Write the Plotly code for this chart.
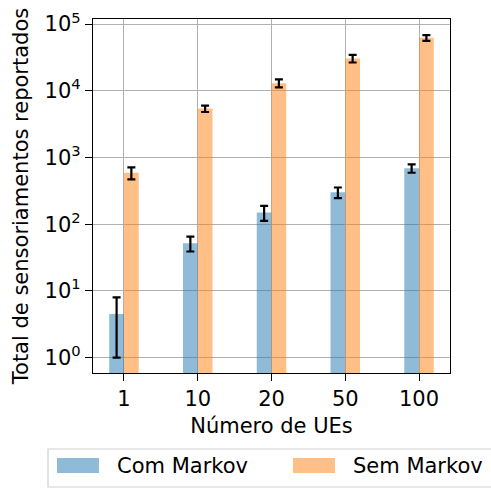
import plotly.graph_objects as go

# Number of UEs (x categories)
ues = ["1", "10", "20", "50", "100"]

# Total reported sensing events, mean and error (std)
com_markov = [4.5, 52, 150, 300, 690]
com_markov_err = [3.5, 13, 38, 55, 100]
sem_markov = [590, 5400, 13000, 30500, 62000]
sem_markov_err = [120, 600, 1800, 4000, 6000]

series_names = ["Com Markov", "Sem Markov"]
blue = "rgba(31,119,180,0.5)"
orange = "rgba(255,127,14,0.5)"

FONT = "DejaVu Sans"
FS = 21

fig = go.Figure()
err_style = dict(type="data", color="black", thickness=2.2, width=4)
fig.add_trace(go.Bar(
    x=ues, y=com_markov, name=series_names[0], marker=dict(color=blue, line=dict(width=0)),
    error_y=dict(array=com_markov_err, **err_style), showlegend=False,
))
fig.add_trace(go.Bar(
    x=ues, y=sem_markov, name=series_names[1], marker=dict(color=orange, line=dict(width=0)),
    error_y=dict(array=sem_markov_err, **err_style), showlegend=False,
))

# plot area in pixels
W, H = 491, 489
L, R, T, B = 93, 450, 19, 373
pw, ph = R - L, B - T

def px_x(x):
    return (x - L) / pw

def px_y(y):
    return (B - y) / ph

# legend drawn below the plot with wide swatches
shapes = [
    dict(type="rect", xref="paper", yref="paper",
         x0=px_x(48), x1=px_x(496), y0=px_y(449), y1=px_y(487),
         line=dict(color="rgba(204,204,204,0.9)", width=1.2), fillcolor="white", layer="above"),
]
annotations = []
legend_items = [(series_names[0], blue, 57, 115), (series_names[1], orange, 293, 351)]
for name, col, sx, tx in legend_items:
    shapes.append(dict(type="rect", xref="paper", yref="paper",
                       x0=px_x(sx), x1=px_x(sx + 42), y0=px_y(458), y1=px_y(473),
                       line=dict(width=0), fillcolor=col, layer="above"))
    annotations.append(dict(text=name, xref="paper", yref="paper", x=px_x(tx), y=px_y(465.5),
                            xanchor="left", yanchor="middle", showarrow=False,
                            font=dict(family=FONT, size=FS, color="black")))

Y_RANGE = [-0.23, 5.075]
ytick_vals = [1, 10, 100, 1000, 10000, 100000]
ytick_text = [f"10<sup>{i}</sup>" for i in range(6)]
# minor log ticks: 2..9 times each decade
yminor_vals = [m * 10 ** d for d in range(-1, 5) for m in range(2, 10)]

fig.update_layout(
    width=W, height=H,
    margin=dict(l=L, r=W - R, t=T, b=H - B),
    paper_bgcolor="white", plot_bgcolor="white",
    barmode="group", bargap=0.6, bargroupgap=0,
    font=dict(family=FONT, size=FS, color="black"),
    shapes=shapes, annotations=annotations,
    xaxis=dict(
        type="category", range=[-0.42, 4.42],
        showgrid=True, gridcolor="#b0b0b0", gridwidth=1.4,
        showline=True, linecolor="black", linewidth=1.3, mirror=True,
        ticks="outside", ticklen=7, tickwidth=1.3, tickcolor="black",
        title=dict(text="Número de UEs", standoff=7, font=dict(size=FS)),
        automargin=False,
    ),
    yaxis=dict(
        type="log", range=Y_RANGE,
        tickvals=ytick_vals, ticktext=ytick_text,
        showgrid=True, gridcolor="#b0b0b0", gridwidth=1.4,
        showline=True, linecolor="black", linewidth=1.3, mirror=True,
        ticks="outside", ticklen=7, tickwidth=1.3, tickcolor="black",
        title=dict(text="Total de sensoriamentos reportados", standoff=10, font=dict(size=FS)),
        automargin=False,
    ),
    yaxis2=dict(
        type="log", range=Y_RANGE, overlaying="y", side="left", anchor="x",
        tickvals=yminor_vals, showticklabels=False, showgrid=False, zeroline=False,
        ticks="outside", ticklen=4, tickwidth=1, tickcolor="black", showline=False,
        automargin=False,
    ),
)

fig.write_html("out.html")
